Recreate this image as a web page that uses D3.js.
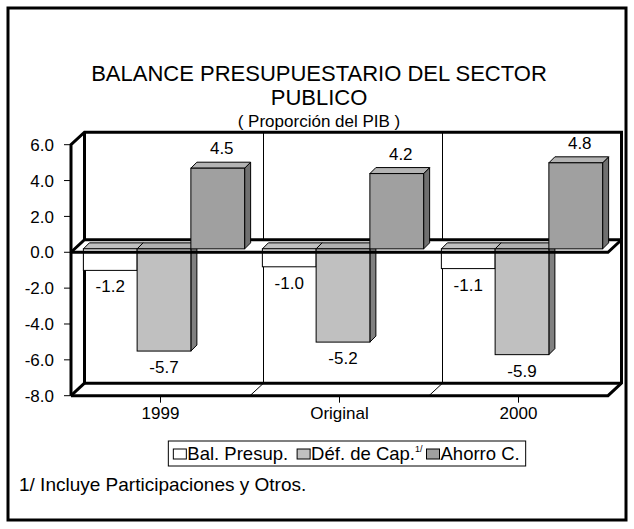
<!DOCTYPE html>
<html>
<head>
<meta charset="utf-8">
<script src="https://cdn.jsdelivr.net/npm/d3@7"></script>
<style>
  html, body { margin: 0; padding: 0; background: #fff; }
  svg { display: block; font-family: Arial, "Liberation Sans", sans-serif; }
</style>
</head>
<body>
<svg id="chart" width="634" height="529"></svg>
<script>
const categories = ["1999", "Original", "2000"];
const seriesNames = ["Bal. Presup.", "Déf. de Cap.", "Ahorro C."];
const balPresup = [-1.2, -1.0, -1.1];
const defCap = [-5.7, -5.2, -5.9];
const ahorroC = [4.5, 4.2, 4.8];
const yTicks = [6, 4, 2, 0, -2, -4, -6, -8];
const titleLines = ["BALANCE PRESUPUESTARIO DEL SECTOR", "PUBLICO"];
const subtitle = "( Proporción del PIB )";
const footnote = "1/ Incluye Participaciones y Otros.";

const seriesValues = [balPresup, defCap, ahorroC];
const colors = [
  { front: "#ffffff", top: "#c0c0c0", side: "#808080" },
  { front: "#c0c0c0", top: "#b0b0b0", side: "#808080" },
  { front: "#a0a0a0", top: "#b4b4b4", side: "#707070" }
];
const fmt = d3.formatLocale({ decimal: ".", thousands: ",", grouping: [3], currency: ["$", ""], minus: "-" }).format(".1f");

const svg = d3.select("#chart");

// outer frame
svg.append("rect").attr("x", 8).attr("y", 8).attr("width", 618).attr("height", 512)
  .attr("fill", "none").attr("stroke", "#000").attr("stroke-width", 3);

// titles
titleLines.forEach((t, i) => {
  svg.append("text").attr("text-anchor", "middle").attr("font-size", 22)
    .attr("x", 319).attr("y", 81 + i * 24).text(t);
});
svg.append("text").attr("x", 319).attr("y", 127).attr("text-anchor", "middle")
  .attr("font-size", 17).text(subtitle);

// geometry
const x = d3.scaleBand().domain(categories).range([71, 608]).padding(0);
const xs = d3.scaleBand().domain(d3.range(3)).range([0, x.bandwidth()]).paddingInner(0).paddingOuter(0.165);
const y = d3.scaleLinear().domain([-8, 6]).range([395.7, 144.7]);
const DX = 13.5, DY = -12.5;      // box depth
const BX = 3.5, BY = -3.4;        // bar front depth offset
const BD = 6;                     // bar depth

const g = svg.append("g");
const line = (pts) => "M" + pts.map(p => p.join(",")).join("L");
const poly = (pts) => line(pts) + "Z";

const yTop = y(6), yBot = y(-8), y0 = y(0);
const xL = x.range()[0], xR = x.range()[1];

// back wall
g.append("path").attr("d", poly([[xL + DX, yTop + DY], [xR + DX, yTop + DY], [xR + DX, yBot + DY], [xL + DX, yBot + DY]]))
  .attr("fill", "#fff").attr("stroke", "none");
categories.slice(1).forEach(c => {
  g.append("line").attr("x1", x(c) + DX).attr("x2", x(c) + DX)
    .attr("y1", yTop + DY).attr("y2", yBot + DY).attr("stroke", "#000").attr("stroke-width", 1);
  g.append("line").attr("x1", x(c)).attr("x2", x(c) + DX)
    .attr("y1", yBot).attr("y2", yBot + DY).attr("stroke", "#000").attr("stroke-width", 1);
});
function thickPath(pts) {
  return g.append("path").attr("d", line(pts)).attr("stroke", "#000").attr("stroke-width", 3)
    .attr("fill", "none").attr("stroke-linejoin", "miter");
}
thickPath([[xL, yBot], [xL, yTop], [xL + DX, yTop + DY], [xR + DX, yTop + DY], [xR + DX, yBot + DY], [xR, yBot], [xL, yBot]]);
thickPath([[xL + DX, yTop + DY], [xL + DX, yBot + DY], [xR + DX, yBot + DY]]);
thickPath([[xL, yBot], [xL + DX, yBot + DY]]);

// zero plane
g.append("path").attr("d", poly([[xL, y0], [xR, y0], [xR + DX, y0 + DY], [xL + DX, y0 + DY]]))
  .attr("fill", "#fff").attr("stroke", "none");
thickPath([[xL, y0], [xL + DX, y0 + DY], [xR + DX, y0 + DY]]);

// bars
const yb = v => y(v) + BY;
categories.forEach((c, ci) => {
  seriesValues.forEach((vals, si) => {
    const v = vals[ci];
    const bx = x(c) + xs(si) + BX;
    const w = xs.bandwidth();
    const top = yb(Math.max(v, 0)), bot = yb(Math.min(v, 0));
    const col = colors[si];
    g.append("path").attr("d", poly([[bx + w, top], [bx + w + BD, top - BD], [bx + w + BD, bot - BD], [bx + w, bot]]))
      .attr("fill", col.side).attr("stroke", "#000").attr("stroke-width", 1);
    g.append("path").attr("d", poly([[bx, top], [bx + w, top], [bx + w + BD, top - BD], [bx + BD, top - BD]]))
      .attr("fill", col.top).attr("stroke", "#000").attr("stroke-width", 1);
    g.append("rect").attr("x", bx).attr("y", top).attr("width", w).attr("height", bot - top)
      .attr("fill", col.front).attr("stroke", "#000").attr("stroke-width", 1);
  });
});

// zero plane front edge (in front of bars)
thickPath([[xL, y0], [xR, y0], [xR + DX, y0 + DY]]);

// y axis ticks and labels
yTicks.forEach(t => {
  svg.append("line").attr("x1", 64).attr("x2", xL).attr("y1", y(t)).attr("y2", y(t))
    .attr("stroke", "#000").attr("stroke-width", 1);
  svg.append("text").attr("x", 54).attr("y", y(t)).attr("dy", "0.36em")
    .attr("text-anchor", "end").attr("font-size", 17).text(fmt(t));
});

// x axis ticks and labels
categories.forEach(c => {
  const cx = x(c) + x.bandwidth() / 2;
  svg.append("line").attr("x1", cx).attr("x2", cx).attr("y1", yBot).attr("y2", yBot + 7)
    .attr("stroke", "#000").attr("stroke-width", 1);
  svg.append("text").attr("x", cx).attr("y", 419).attr("text-anchor", "middle")
    .attr("font-size", 17).text(c);
});

// data labels
categories.forEach((c, ci) => {
  seriesValues.forEach((vals, si) => {
    const v = vals[ci];
    const bx = x(c) + xs(si) + BX;
    const w = xs.bandwidth();
    const lx = bx + w / 2 + (v > 0 ? 4 : 0);
    const ly = v > 0 ? yb(v) - BD - 8 : yb(v) + 22;
    svg.append("text").attr("x", lx).attr("y", ly).attr("text-anchor", "middle")
      .attr("font-size", 17).text(fmt(v));
  });
});

// legend
const lg = svg.append("g");
const box = lg.append("rect").attr("y", 441).attr("height", 25)
  .attr("fill", "#fff").attr("stroke", "#000").attr("stroke-width", 1);
let cur = 0;
const items = lg.append("g");
seriesNames.forEach((n, i) => {
  items.append("rect").attr("x", cur + 1).attr("y", 449).attr("width", 13).attr("height", 10)
    .attr("fill", colors[i].front).attr("stroke", "#000").attr("stroke-width", 1);
  const t = items.append("text").attr("x", cur + 15).attr("y", 460).attr("font-size", 18.5).text(n);
  if (i === 1) t.append("tspan").attr("font-size", 9).attr("dy", -8).text("1/");
  cur += 15 + t.node().getComputedTextLength() + (i === 0 ? 8 : 3);
});
const totalW = cur - 3 + 2;
const cxL = 347;
items.attr("transform", `translate(${cxL - totalW / 2},0)`);
box.attr("x", cxL - totalW / 2 - 4).attr("width", totalW + 8);

// footnote
svg.append("text").attr("x", 19).attr("y", 491).attr("font-size", 19).text(footnote);
</script>
</body>
</html>
